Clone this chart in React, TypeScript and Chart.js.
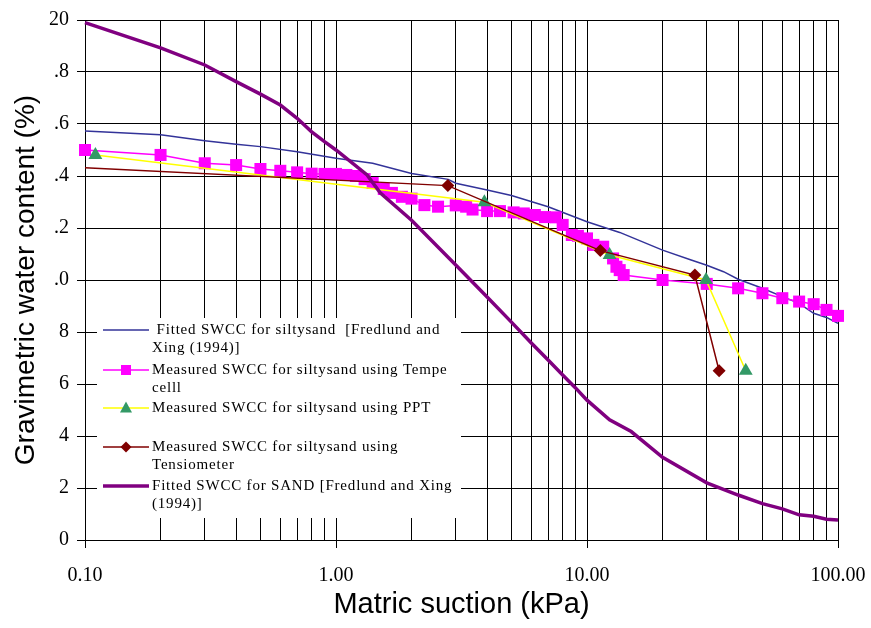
import React, { useEffect, useRef } from 'react';
import { Chart, registerables } from 'chart.js';

Chart.register(...registerables);

// ---- axis ticks ----
const xDecades = [0.1, 1, 10, 100];
const xTickLabels = ['0.10', '1.00', '10.00', '100.00'];
const yTickValues = [0, 2, 4, 6, 8, 10, 12, 14, 16, 18, 20];
const yTickLabels = ['0', '2', '4', '6', '8', '.0', '.2', '.4', '.6', '.8', '20'];

// ---- series: Fitted SWCC for silty sand ----
const fittedSiltX = [0.1, 0.2, 0.3, 0.4, 0.5, 0.7, 1.0, 1.4, 2.0, 2.8, 3.0, 4.0, 5.0, 7.0, 10, 13.5, 20, 26, 30, 35, 40, 50, 60, 70, 80, 90, 100];
const fittedSiltY = [15.73, 15.59, 15.36, 15.22, 15.13, 14.93, 14.68, 14.49, 14.1, 13.87, 13.72, 13.46, 13.25, 12.82, 12.24, 11.83, 11.15, 10.77, 10.57, 10.32, 10.03, 9.68, 9.36, 9.1, 8.72, 8.56, 8.33];

// ---- series: Measured SWCC using Tempe cell ----
const tempeX = [0.1, 0.2, 0.3, 0.4, 0.5, 0.6, 0.7, 0.8, 0.9, 1.0, 1.1, 1.2, 1.3, 1.4, 1.55, 1.67, 1.83, 2.0, 2.25, 2.55, 3.0, 3.3, 3.5, 4.0, 4.5, 5.1, 5.6, 6.2, 6.8, 7.5, 8.0, 8.7, 9.2, 10, 10.6, 11.6, 12.7, 13.1, 13.5, 14, 20, 30, 40, 50, 60, 70, 80, 90, 100];
const tempeY = [15.0, 14.81, 14.49, 14.42, 14.27, 14.2, 14.14, 14.09, 14.08, 14.08, 14.04, 14.0, 13.88, 13.73, 13.5, 13.35, 13.2, 13.13, 12.88, 12.82, 12.87, 12.82, 12.71, 12.65, 12.65, 12.6, 12.56, 12.5, 12.42, 12.41, 12.12, 11.73, 11.7, 11.6, 11.35, 11.28, 10.83, 10.51, 10.38, 10.19, 10.0, 9.85, 9.68, 9.49, 9.3, 9.17, 9.07, 8.85, 8.62];

// ---- series: Measured SWCC using PPT ----
const pptX = [0.11, 3.9, 12.3, 29.8, 42.9];
const pptY = [14.81, 12.99, 10.96, 10.0, 6.51];

// ---- series: Measured SWCC using Tensiometer ----
const tensioX = [0.1, 2.79, 11.3, 26.9, 33.6];
const tensioY = [14.32, 13.63, 11.13, 10.19, 6.51];

// ---- series: Fitted SWCC for SAND ----
const sandX = [0.1, 0.2, 0.3, 0.4, 0.5, 0.6, 0.7, 0.8, 0.9, 1.0, 1.33, 1.5, 2, 3, 4, 5, 6, 7, 8, 9, 10, 12.3, 15, 20, 30, 40, 50, 60, 70, 80, 90, 100];
const sandY = [19.9, 18.93, 18.27, 17.63, 17.15, 16.73, 16.22, 15.7, 15.32, 15.0, 14.04, 13.35, 12.3, 10.58, 9.35, 8.38, 7.58, 6.92, 6.35, 5.85, 5.38, 4.62, 4.17, 3.18, 2.2, 1.73, 1.4, 1.2, 0.97, 0.91, 0.8, 0.77];

const legendTexts = [
  [' Fitted SWCC for siltysand  [Fredlund and', 'Xing (1994)]'],
  ['Measured SWCC for siltysand using Tempe', 'celll'],
  ['Measured SWCC for siltysand using PPT'],
  ['Measured SWCC for siltysand using', 'Tensiometer'],
  ['Fitted SWCC for SAND [Fredlund and Xing', '(1994)]'],
];

const BLUE = '#333399';
const MAGENTA = '#FF00FF';
const YELLOW = '#FFFF00';
const GREEN = '#339966';
const DARKRED = '#800000';
const PURPLE = '#800080';

function pts(xs: number[], ys: number[]) {
  return xs.map((x, i) => ({ x, y: ys[i] }));
}

const legendStyles = [
  { line: BLUE, width: 1.5, marker: null as null | string, fill: '' },
  { line: MAGENTA, width: 1.5, marker: 'rect', fill: MAGENTA },
  { line: YELLOW, width: 1.5, marker: 'triangle', fill: GREEN },
  { line: DARKRED, width: 1.5, marker: 'diamond', fill: DARKRED },
  { line: PURPLE, width: 3.5, marker: null, fill: '' },
];

const boxLegend = {
  id: 'boxLegend',
  afterDatasetsDraw(chart: any) {
    const ctx = chart.ctx as CanvasRenderingContext2D;
    ctx.save();
    ctx.fillStyle = '#ffffff';
    ctx.fillRect(97, 318, 364, 200);
    const rowY = [330, 370, 408, 447, 486];
    const x0 = 103, x1 = 149, xm = 126;
    ctx.font = '15px "Liberation Serif", "Times New Roman", serif';
    (ctx as any).letterSpacing = '0.8px';
    ctx.textBaseline = 'middle';
    ctx.textAlign = 'left';
    legendTexts.forEach((lines, i) => {
      const st = legendStyles[i];
      const y = rowY[i];
      ctx.strokeStyle = st.line;
      ctx.lineWidth = st.width;
      ctx.beginPath();
      ctx.moveTo(x0, y);
      ctx.lineTo(x1, y);
      ctx.stroke();
      ctx.fillStyle = st.fill;
      if (st.marker === 'rect') {
        ctx.fillRect(xm - 5, y - 5, 10, 10);
      } else if (st.marker === 'triangle') {
        ctx.beginPath();
        ctx.moveTo(xm, y - 6.5);
        ctx.lineTo(xm + 6, y + 4.5);
        ctx.lineTo(xm - 6, y + 4.5);
        ctx.closePath();
        ctx.fill();
      } else if (st.marker === 'diamond') {
        ctx.beginPath();
        ctx.moveTo(xm, y - 5.5);
        ctx.lineTo(xm + 5.5, y);
        ctx.lineTo(xm, y + 5.5);
        ctx.lineTo(xm - 5.5, y);
        ctx.closePath();
        ctx.fill();
      }
      ctx.fillStyle = '#000';
      lines.forEach((t, j) => {
        ctx.fillText(t, 152, y + j * 18);
      });
    });
    (ctx as any).letterSpacing = '0px';
    ctx.restore();
  },
};

export default function App() {
  const ref = useRef<HTMLCanvasElement | null>(null);

  useEffect(() => {
    if (!ref.current) return;
    const chart = new Chart(ref.current, {
      type: 'scatter',
      data: {
        datasets: [
          {
            label: 'Fitted SWCC for siltysand [Fredlund and Xing (1994)]',
            data: pts(fittedSiltX, fittedSiltY),
            showLine: true,
            borderColor: BLUE,
            borderWidth: 1.5,
            pointRadius: 0,
            clip: false,
            order: 5,
          },
          {
            label: 'Measured SWCC for siltysand using Tempe celll',
            data: pts(tempeX, tempeY),
            showLine: true,
            borderColor: MAGENTA,
            backgroundColor: MAGENTA,
            borderWidth: 1.5,
            pointStyle: 'rect',
            pointRadius: 8.5,
            pointBorderWidth: 0,
            clip: false,
            order: 4,
          },
          {
            label: 'Measured SWCC for siltysand using PPT',
            data: pts(pptX, pptY),
            showLine: true,
            borderColor: YELLOW,
            backgroundColor: GREEN,
            pointBorderColor: GREEN,
            borderWidth: 1.5,
            pointStyle: 'triangle',
            pointRadius: 8,
            pointBorderWidth: 0,
            clip: false,
            order: 3,
          },
          {
            label: 'Measured SWCC for siltysand using Tensiometer',
            data: pts(tensioX, tensioY),
            showLine: true,
            borderColor: DARKRED,
            backgroundColor: DARKRED,
            borderWidth: 1.5,
            pointStyle: 'rectRot',
            pointRadius: tensioX.map((_, i) => (i === 0 ? 0 : 6.5)),
            pointBorderWidth: 0,
            clip: false,
            order: 2,
          },
          {
            label: 'Fitted SWCC for SAND [Fredlund and Xing (1994)]',
            data: pts(sandX, sandY),
            showLine: true,
            borderColor: PURPLE,
            borderWidth: 3.5,
            pointRadius: 0,
            clip: false,
            order: 1,
          },
        ],
      },
      options: {
        responsive: false,
        animation: false,
        events: [],
        layout: { padding: { top: 20, right: 33, left: 0, bottom: 0 } },
        plugins: {
          legend: { display: false },
          tooltip: { enabled: false },
        },
        scales: {
          x: {
            type: 'logarithmic',
            min: 0.1,
            max: 100,
            afterBuildTicks: (scale: any) => {
              const vals: number[] = [];
              for (let d = 0; d < 3; d++) {
                for (let m = 1; m < 10; m++) vals.push(+(xDecades[d] * m).toPrecision(3));
              }
              vals.push(100);
              scale.ticks = vals.map((v) => ({ value: v }));
            },
            afterFit: (scale: any) => {
              scale.height = 88;
              scale.paddingLeft = 0;
              scale.paddingRight = 0;
            },
            grid: {
              color: '#000',
              lineWidth: 1,
              tickLength: 8,
              tickColor: (c: any) => (c.tick && xDecades.includes(c.tick.value) ? '#000' : 'rgba(0,0,0,0)'),
            },
            border: { color: '#000', width: 1 },
            ticks: {
              autoSkip: false,
              maxRotation: 0,
              padding: 16,
              color: '#000',
              font: { family: '"Liberation Serif", "Times New Roman", serif', size: 20 },
              callback: (v: any) => {
                const i = xDecades.indexOf(Number(v));
                return i >= 0 ? xTickLabels[i] : '';
              },
            },
            title: {
              display: true,
              text: 'Matric suction (kPa)',
              color: '#000',
              font: { family: '"Liberation Sans", Arial, sans-serif', size: 29 },
              padding: { top: 6, bottom: 6 },
            },
          },
          y: {
            type: 'linear',
            min: 0,
            max: 20,
            afterFit: (scale: any) => {
              scale.width = 85;
            },
            grid: { color: '#000', lineWidth: 1, tickLength: 8, tickColor: '#000' },
            border: { color: '#000', width: 1 },
            ticks: {
              stepSize: 2,
              padding: 8,
              color: '#000',
              font: { family: '"Liberation Serif", "Times New Roman", serif', size: 20 },
              callback: (v: any) => {
                const i = yTickValues.indexOf(Number(v));
                return i >= 0 ? yTickLabels[i] : '';
              },
            },
            title: {
              display: true,
              text: 'Gravimetric water content (%)',
              color: '#000',
              font: { family: '"Liberation Sans", Arial, sans-serif', size: 28 },
              padding: { top: 9, bottom: 9 },
            },
          },
        },
      } as any,
      plugins: [boxLegend],
    });
    return () => chart.destroy();
  }, []);

  return (
    <div style={{ position: 'absolute', left: 0, top: 0, width: 871, height: 628, background: '#fff' }}>
      <canvas ref={ref} width={871} height={628} style={{ display: 'block' }} />
    </div>
  );
}
